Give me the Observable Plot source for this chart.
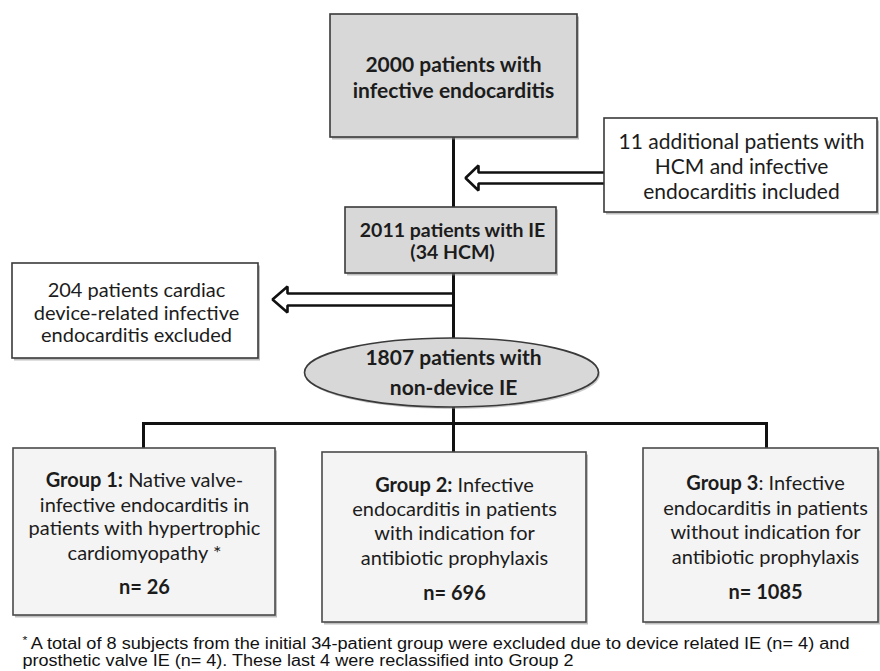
<!DOCTYPE html>
<html><head><meta charset="utf-8">
<script src="https://cdn.jsdelivr.net/npm/d3@7"></script>
<script src="https://cdn.jsdelivr.net/npm/@observablehq/plot@0.6"></script>
<style>body{margin:0;background:#fff} #chart svg{display:block}</style>
</head><body><div id="chart"></div>
<script>
// ---------------- data ----------------
const totalPatients = 2000;
const addedHCM = 11;
const combinedPatients = 2011;
const hcmPatients = 34;
const deviceExcluded = 204;
const nonDevicePatients = 1807;
const groupLabels = ["Group 1", "Group 2", "Group 3"];
const groupColonBold = [true, true, false];
const groupN = [26, 696, 1085];
const groupDescriptions = [
  ["Native valve-", "infective endocarditis in", "patients with hypertrophic", "cardiomyopathy *"],
  ["Infective", "endocarditis in patients", "with indication for", "antibiotic prophylaxis"],
  ["Infective", "endocarditis in patients", "without indication for", "antibiotic prophylaxis"]
];
const footnoteLines = [
  "A total of 8 subjects from the initial 34-patient group were excluded due to device related IE (n= 4) and",
  "prosthetic valve IE (n= 4). These last 4 were reclassified into Group 2"
];

// ---------------- layout ----------------
const L = {
  A: {x1: 330, x2: 577, y1: 14, y2: 137, cx: 453, lines: [65, 91], size: 21},
  B: {x1: 604, x2: 877, y1: 118, y2: 212, cx: 741, lines: [142, 167, 192], size: 21},
  C: {x1: 345, x2: 556, y1: 207, y2: 273, cx: 452, lines: [230, 252], size: 19.5},
  D: {x1: 12, x2: 258, y1: 263, y2: 358, cx: 136, lines: [290, 313, 335], size: 20},
  E: {cx: 451, cy: 372, rx: 147, ry: 34.5, cx2: 453, lines: [358, 388], size: 21},
  G: [
    {x1: 13, x2: 275, y1: 448, y2: 615, cx: 144, lines: [480, 505, 528, 553, 587]},
    {x1: 322, x2: 586, y1: 452, y2: 622, cx: 454, lines: [485, 509, 533, 558, 593]},
    {x1: 643, x2: 878, y1: 448, y2: 622, cx: 765, lines: [483, 508, 532, 557, 592]}
  ],
  groupSize: 20, nSize: 20,
  spineX: 453, busY: 423, dropX: [143, 453, 766],
  arrows: [
    {from: 604, to: 465, y: 177.5, half: 5.5, headLen: 13, headHalf: 12.5},
    {from: 453, to: 272, y: 299, half: 6, headLen: 15, headHalf: 13}
  ],
  foot: {x: 22, y: [643, 660], len1: 827, len2: 551, size: 16}
};

const fontMain = "Lato, 'Open Sans', sans-serif";
const fontFoot = "'Liberation Sans Narrow', 'Liberation Sans', Arial, sans-serif";
const ink = "#1c1c1c";

const greyBoxes = [L.A, L.C];
const whiteBoxes = [L.B, L.D];
const groupBoxes = L.G;

const links = [
  {x1: L.spineX, y1: L.A.y2, x2: L.spineX, y2: L.C.y1},
  {x1: L.spineX, y1: L.C.y2, x2: L.spineX, y2: L.E.cy - L.E.ry},
  {x1: L.spineX, y1: L.E.cy + L.E.ry, x2: L.spineX, y2: L.busY},
  {x1: L.dropX[0], y1: L.busY, x2: L.dropX[2], y2: L.busY},
  ...L.dropX.map((x, i) => ({x1: x, y1: L.busY, x2: x, y2: L.G[i].y1}))
];

const arrowPts = [];
L.arrows.forEach((a, k) => {
  const dir = a.to < a.from ? 1 : -1;
  const hb = a.to + dir * a.headLen;
  [[a.from, a.y - a.half], [hb, a.y - a.half], [hb, a.y - a.headHalf], [a.to, a.y],
   [hb, a.y + a.headHalf], [hb, a.y + a.half], [a.from, a.y + a.half]]
    .forEach(([x, y]) => arrowPts.push({k, x, y}));
});

const boldText = [];
const regText = [];
const push = (arr, box, strs, cx) => strs.forEach((s, i) => arr.push({x: cx ?? box.cx, y: box.lines[i], text: s, size: box.size}));
push(boldText, L.A, [`${totalPatients} patients with`, "infective endocarditis"]);
push(regText, L.B, [`${addedHCM} additional patients with`, "HCM and infective", "endocarditis included"]);
push(boldText, L.C, [`${combinedPatients} patients with IE`, `(${hcmPatients} HCM)`]);
push(regText, L.D, [`${deviceExcluded} patients cardiac`, "device-related infective", "endocarditis excluded"]);
push(boldText, L.E, [`${nonDevicePatients} patients with`, "non-device IE"], L.E.cx2);
const titleParts = {};
L.G.forEach((g, i) => {
  const bold = groupLabels[i] + (groupColonBold[i] ? ":" : "");
  const rest = (groupColonBold[i] ? " " : ": ") + groupDescriptions[i][0];
  titleParts[bold + rest] = [bold, rest];
  regText.push({x: g.cx, y: g.lines[0], text: bold + rest, size: L.groupSize});
  for (let j = 1; j < 4; j++) regText.push({x: g.cx, y: g.lines[j], text: groupDescriptions[i][j], size: L.groupSize});
  boldText.push({x: g.cx, y: g.lines[4], text: `n= ${groupN[i]}`, size: L.nSize});
});
const footText = footnoteLines.map((s, i) => ({x: L.foot.x, y: L.foot.y[i], text: i ? s : "* " + s}));

const ellipseSymbol = {
  draw(ctx) {
    const rx = L.E.rx, ry = L.E.ry, k = 0.5523;
    ctx.moveTo(rx, 0);
    ctx.bezierCurveTo(rx, ry * k, rx * k, ry, 0, ry);
    ctx.bezierCurveTo(-rx * k, ry, -rx, ry * k, -rx, 0);
    ctx.bezierCurveTo(-rx, -ry * k, -rx * k, -ry, 0, -ry);
    ctx.bezierCurveTo(rx * k, -ry, rx, -ry * k, rx, 0);
    ctx.closePath();
  }
};

const rectOpts = {x1: "x1", x2: "x2", y1: "y1", y2: "y2"};
const svg = Plot.plot({
  width: 880, height: 671, margin: 0,
  x: {domain: [0, 880], range: [0, 880], axis: null},
  y: {domain: [0, 671], range: [0, 671], axis: null},
  style: {background: "#fff"},
  marks: [
    Plot.link(links, {x1: "x1", y1: "y1", x2: "x2", y2: "y2", stroke: "#111", strokeWidth: 3, strokeLinecap: "square"}),
    Plot.line(arrowPts, {x: "x", y: "y", z: "k", stroke: "#111", strokeWidth: 2.6, strokeLinejoin: "miter", curve: "linear"}),
    Plot.rect([...greyBoxes, ...whiteBoxes, ...groupBoxes], {...rectOpts, fill: "#8a8a8a", fillOpacity: 0.55, dx: 2, dy: 2.5}),
    Plot.dot([L.E], {x: "cx", y: "cy", symbol: ellipseSymbol, fill: "#8a8a8a", fillOpacity: 0.45, dx: 1.5, dy: 2}),
    Plot.rect(greyBoxes, {...rectOpts, fill: "#d8d8d8", stroke: "#3a3a3a", strokeWidth: 1.6}),
    Plot.rect(whiteBoxes, {...rectOpts, fill: "#ffffff", stroke: "#3a3a3a", strokeWidth: 1.6}),
    Plot.rect(groupBoxes, {...rectOpts, fill: "#f4f4f4", stroke: "#4a4a4a", strokeWidth: 1.6}),
    Plot.dot([L.E], {x: "cx", y: "cy", symbol: ellipseSymbol, fill: "#d8d8d8", stroke: "#3a3a3a", strokeWidth: 1.6}),
    Plot.text(boldText, {x: "x", y: "y", text: "text", fontSize: "size", fontWeight: "bold", fontFamily: fontMain, fill: ink, textAnchor: "middle", lineAnchor: "middle"}),
    Plot.text(regText, {x: "x", y: "y", text: "text", fontSize: "size", fontFamily: fontMain, fill: ink, textAnchor: "middle", lineAnchor: "middle"}),
    Plot.text(footText, {x: "x", y: "y", text: "text", fontSize: L.foot.size, fontFamily: fontFoot, fill: "#111", textAnchor: "start", lineAnchor: "middle"})
  ]
});

d3.select(svg).selectAll("text").each(function () {
  const t = this.textContent;
  if (titleParts[t]) {
    const [b, r] = titleParts[t];
    this.textContent = "";
    d3.select(this).append("tspan").attr("font-weight", "bold").text(b);
    d3.select(this).append("tspan").text(r);
  } else if (t === "* " + footnoteLines[0]) {
    this.textContent = "";
    d3.select(this).append("tspan").attr("font-size", 11).attr("dy", -5).text("* ");
    d3.select(this).append("tspan").attr("dy", 5).text(footnoteLines[0]);
    this.setAttribute("textLength", L.foot.len1);
    this.setAttribute("lengthAdjust", "spacingAndGlyphs");
  } else if (t === footnoteLines[1]) {
    this.setAttribute("textLength", L.foot.len2);
    this.setAttribute("lengthAdjust", "spacingAndGlyphs");
  }
});
document.getElementById("chart").appendChild(svg);
</script></body></html>
